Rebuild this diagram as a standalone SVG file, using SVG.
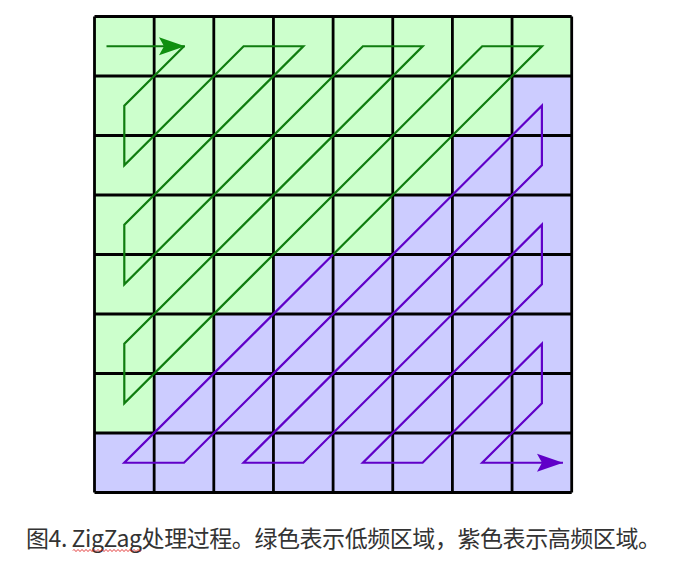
<svg xmlns="http://www.w3.org/2000/svg" width="686" height="582" viewBox="0 0 686 582">
  <style>
    .grid { stroke: #000; stroke-width: 2.8; fill: none; }
    .green { stroke: #0f7d0f; stroke-width: 2.2; fill: none; stroke-linejoin: miter; }
    .purple { stroke: #6000c8; stroke-width: 2.2; fill: none; stroke-linejoin: miter; }
    .caption { font-family: "Noto Sans CJK SC", "Noto Sans", sans-serif; font-size: 23px; fill: #333; }
  </style>
  <defs>
    <marker id="arrowG" markerUnits="userSpaceOnUse" markerWidth="30" markerHeight="22" refX="26" refY="11" orient="auto">
      <path d="M0,2 L26,11 L0,20 L5,11 Z" fill="#0f8f0f"/>
    </marker>
    <marker id="arrowP" markerUnits="userSpaceOnUse" markerWidth="30" markerHeight="22" refX="26" refY="11" orient="auto">
      <path d="M0,2 L26,11 L0,20 L5,11 Z" fill="#6000c8"/>
    </marker>
  </defs>
  <rect width="686" height="582" fill="#fff"/>
  <g id="regions">
    <rect id="high-freq" x="94.5" y="16.5" width="477.2" height="476" fill="#ccccff"/>
    <polygon id="low-freq" fill="#ccffcc" points="94.5,16.5 571.7,16.5 571.7,76 512.05,76 512.05,135.5 452.4,135.5 452.4,195 392.75,195 392.75,254.5 273.45,254.5 273.45,314 213.8,314 213.8,373.5 154.15,373.5 154.15,433 94.5,433"/>
  </g>
  <g id="grid" class="grid">
    <path d="M94.5,16.5V492.5M154.15,16.5V492.5M213.8,16.5V492.5M273.45,16.5V492.5M333.1,16.5V492.5M392.75,16.5V492.5M452.4,16.5V492.5M512.05,16.5V492.5M571.7,16.5V492.5"/>
    <path d="M94.5,16.5H571.7M94.5,76H571.7M94.5,135.5H571.7M94.5,195H571.7M94.5,254.5H571.7M94.5,314H571.7M94.5,373.5H571.7M94.5,433H571.7M94.5,492.5H571.7"/>
  </g>
  <g id="connectors">
    <line id="start-arrow" class="green" x1="106.5" y1="46.25" x2="185" y2="46.25" marker-end="url(#arrowG)"/>
    <polyline id="zigzag-low" class="green" points="184,46.25 124.3,105.75 124.3,165.25 243.6,46.25 303.3,46.25 124.3,224.75 124.3,284.25 362.9,46.25 422.6,46.25 124.3,343.75 124.3,403.25 482.2,46.25 541.9,46.25 333.1,254.5"/>
    <polyline id="zigzag-high" class="purple" points="333.1,254.5 124.3,462.75 184,462.75 541.9,105.75 541.9,165.25 243.6,462.75 303.3,462.75 541.9,224.75 541.9,284.25 362.9,462.75 422.6,462.75 541.9,343.75 541.9,403.25 482.2,462.75 563,462.75" marker-end="url(#arrowP)"/>
  </g>
  <g id="caption">
    <text class="caption" x="26" y="547" textLength="635" lengthAdjust="spacing">图4. ZigZag处理过程。绿色表示低频区域，紫色表示高频区域。</text>
    <path d="M73,550.5 q1,-2 2,0 t2,0 t2,0 t2,0 t2,0 t2,0 t2,0 t2,0 t2,0 t2,0 t2,0 t2,0 t2,0 t2,0 t2,0 t2,0 t2,0 t2,0 t2,0 t2,0 t2,0 t2,0 t2,0 t2,0 t2,0 t2,0 t2,0 t2,0 t2,0 t2,0 t2,0 t2,0 t2,0 t2,0" stroke="#e02020" stroke-width="1" fill="none"/>
  </g>
</svg>
